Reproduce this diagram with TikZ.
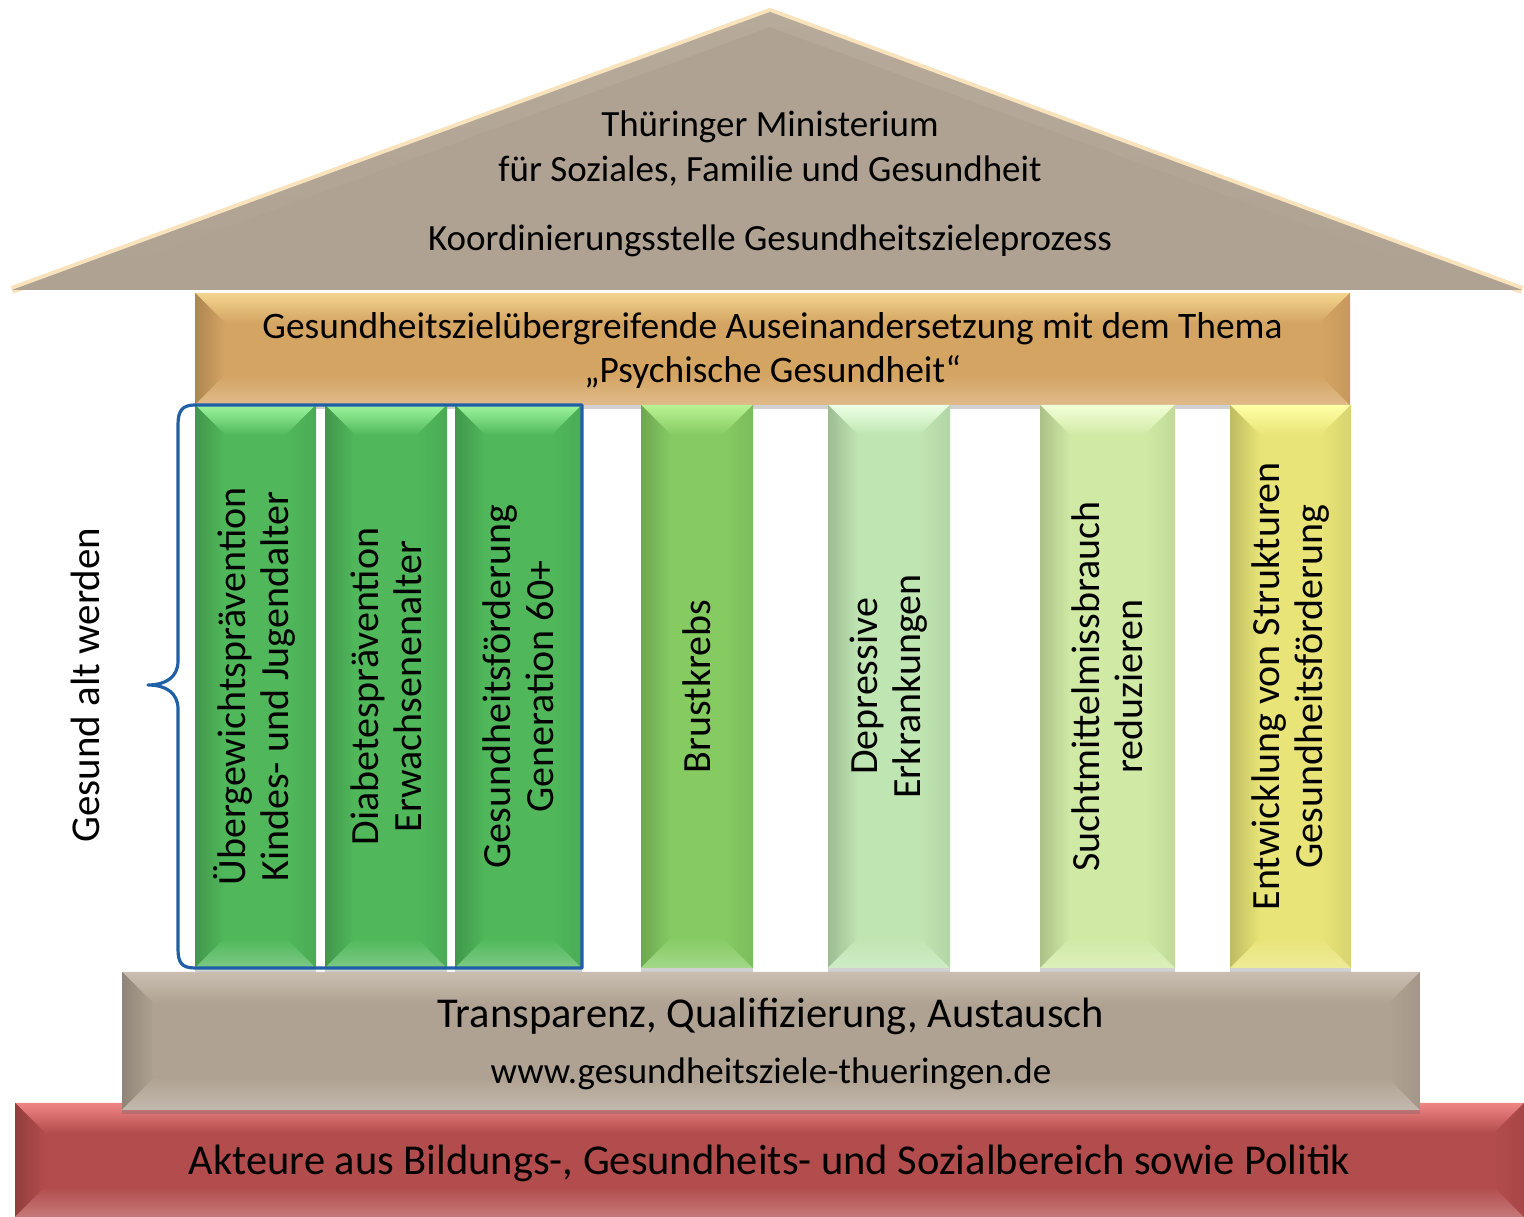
\documentclass[tikz,border=0pt]{standalone}
\usepackage{fontspec}
\setmainfont{Carlito}
\usetikzlibrary{calc,shadows}
\definecolor{roofc}{HTML}{AFA292}
\definecolor{rooflight}{HTML}{C9BEB0}
\definecolor{glow}{HTML}{F6D9A6}
\definecolor{orangec}{HTML}{D4A463}
\definecolor{orangel}{HTML}{F3D58E}
\definecolor{gdark}{HTML}{50B85B}
\definecolor{gdarkl}{HTML}{9DF59E}
\definecolor{brust}{HTML}{85CB62}
\definecolor{brustl}{HTML}{B9F293}
\definecolor{depc}{HTML}{BFE5B2}
\definecolor{depl}{HTML}{ECFFE3}
\definecolor{suchtc}{HTML}{D0EAA5}
\definecolor{suchtl}{HTML}{F2FFD6}
\definecolor{yelc}{HTML}{E8E477}
\definecolor{yell}{HTML}{FFFFA6}
\definecolor{redc}{HTML}{B34C4C}
\definecolor{redl}{HTML}{F08585}
\definecolor{bluec}{HTML}{1F5FA8}
\newcommand{\bevel}[4]{%
  \shade[top color=#3, bottom color=#2] (#1.north west) -- (#1.north east) -- ($(#1.north east)+(-#4,-#4)$) -- ($(#1.north west)+(#4,-#4)$) -- cycle;
  \shade[left color=#2!82!black, right color=#2] (#1.north west) -- ($(#1.north west)+(#4,-#4)$) -- ($(#1.south west)+(#4,#4)$) -- (#1.south west) -- cycle;
  \shade[bottom color=#2!75!white, top color=#2] (#1.south west) -- ($(#1.south west)+(#4,#4)$) -- ($(#1.south east)+(-#4,#4)$) -- (#1.south east) -- cycle;
  \shade[right color=#2!93!black, left color=#2] (#1.north east) -- (#1.south east) -- ($(#1.south east)+(-#4,#4)$) -- ($(#1.north east)+(-#4,-#4)$) -- cycle;
}
\tikzset{
  block/.style={rectangle, inner sep=0pt, outer sep=0pt, draw=none,
    drop shadow={shadow xshift=0pt, shadow yshift=-4pt, opacity=0.3, fill=black!60}},
  pillartext/.style={rotate=90, align=center, font=\fontsize{40}{43}\selectfont, inner sep=0pt},
  bandtext/.style={align=center, inner sep=0pt},
}
\begin{document}
\begin{tikzpicture}[x=1pt, y=1pt]
\useasboundingbox (0,0) rectangle (1524,1217);
% roof
\draw[line width=8pt, glow, opacity=0.75, line join=round] (12,927) -- (770,1205) -- (1522,927);
\fill[roofc] (12,927) -- (770,1205) -- (1522,927) -- cycle;
\shade[top color=rooflight, bottom color=roofc, opacity=0.3] (12,927) -- (770,1205) -- (1522,927) -- (1470,932) -- (770,1190) -- (70,932) -- cycle;
\node[bandtext, font=\fontsize{37}{44}\selectfont] (roofa) at (770,1090) {Thüringer Ministerium};
\node[bandtext, font=\fontsize{37}{44}\selectfont] (roofb) at (770,1046) {für Soziales, Familie und Gesundheit};
\node[bandtext, font=\fontsize{37}{44}\selectfont] (roofc) at (770,976) {Koordinierungsstelle Gesundheitszieleprozess};
% red base
\node[block, fill=redc, minimum width=1509pt, minimum height=114pt] (base) at (769.5,57) {};
\bevel{base}{redc}{redl}{30}
\node[bandtext, font=\fontsize{42.5}{48}\selectfont] (basetext) at (769.5,54) {Akteure aus Bildungs-, Gesundheits- und Sozialbereich sowie Politik};
% transparenz
\node[block, fill=roofc, minimum width=1298pt, minimum height=138pt] (trans) at (771,176) {};
\bevel{trans}{roofc}{rooflight}{32}
\node[bandtext, font=\fontsize{42.5}{48}\selectfont] (transtext) at (771,201) {Transparenz, Qualifizierung, Austausch};
\node[bandtext, font=\fontsize{37}{42}\selectfont] (wwwtext) at (771,143) {www.gesundheitsziele-thueringen.de};
% orange band
\node[block, fill=orangec, minimum width=1155pt, minimum height=112pt] (band) at (772.5,868) {};
\bevel{band}{orangec}{orangel}{30}
\node[bandtext, font=\fontsize{37.4}{44}\selectfont] (bandtext) at (772.5,866) {Gesundheitszielübergreifende Auseinandersetzung mit dem Thema\\„Psychische Gesundheit“};
% pillars
\node[block, fill=gdark, minimum width=121pt, minimum height=563pt] (p1) at (255.5,530.5) {};
\bevel{p1}{gdark}{gdarkl}{30}
\node[block, fill=gdark, minimum width=122pt, minimum height=563pt] (p2) at (386,530.5) {};
\bevel{p2}{gdark}{gdarkl}{30}
\node[block, fill=gdark, minimum width=127pt, minimum height=563pt] (p3) at (518.5,530.5) {};
\bevel{p3}{gdark}{gdarkl}{30}
\node[block, fill=brust, minimum width=112pt, minimum height=563pt] (p4) at (697,530.5) {};
\bevel{p4}{brust}{brustl}{30}
\node[block, fill=depc, minimum width=122pt, minimum height=563pt] (p5) at (889,530.5) {};
\bevel{p5}{depc}{depl}{30}
\node[block, fill=suchtc, minimum width=135pt, minimum height=563pt] (p6) at (1107.5,530.5) {};
\bevel{p6}{suchtc}{suchtl}{30}
\node[block, fill=yelc, minimum width=121pt, minimum height=563pt] (p7) at (1290.5,530.5) {};
\bevel{p7}{yelc}{yell}{30}
\node[pillartext] (t1) at (254,530.5) {Übergewichtsprävention\\Kindes- und Jugendalter};
\node[pillartext] (t2) at (386,530.5) {Diabetesprävention\\Erwachsenenalter};
\node[pillartext] (t3) at (518.5,530.5) {Gesundheitsförderung\\Generation 60+};
\node[pillartext] (t4) at (p4.center) {Brustkrebs};
\node[pillartext] (t5) at (p5.center) {Depressive\\Erkrankungen};
\node[pillartext] (t6) at (p6.center) {Suchtmittelmissbrauch\\reduzieren};
\node[pillartext] (t7) at (p7.center) {Entwicklung von Strukturen\\Gesundheitsförderung};
% blue brace outline
\draw[bluec, line width=3.2pt, line join=round]
  (p3.north east) -- (p1.north west) .. controls (182,812) and (178,806) .. (178,792)
  -- (178,556) .. controls (178,540) and (166,532) .. (148,532)
  .. controls (166,532) and (178,524) .. (178,508)
  -- (178,268) .. controls (178,254) and (182,249) .. (p1.south west)
  -- (p3.south east) -- cycle;
\node[pillartext, font=\fontsize{41}{46}\selectfont] (gesund) at (85,532) {Gesund alt werden};
\end{tikzpicture}
\end{document}
